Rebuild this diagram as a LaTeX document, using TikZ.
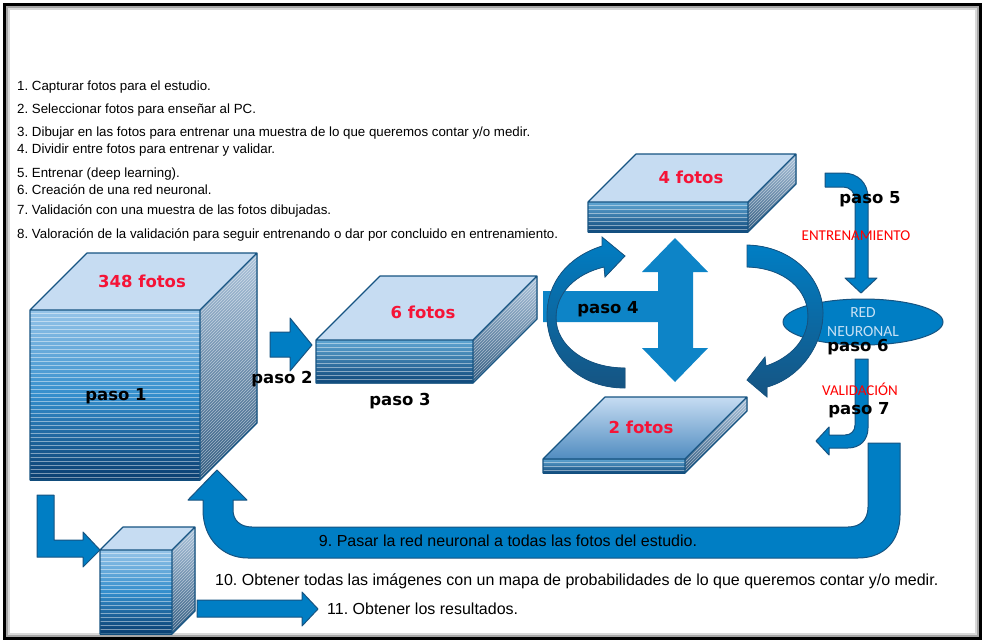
\documentclass[tikz,border=0pt]{standalone}
\usepackage{fontspec}
\setmainfont{Liberation Sans}
\newfontfamily\pasofont{DejaVu Sans}
\newfontfamily\calfont{Carlito}
\usetikzlibrary{positioning, calc, shapes.geometric}
\frenchspacing

\definecolor{azul}{RGB}{0,126,196}
\definecolor{azulosc}{RGB}{22,84,130}
\definecolor{celeste}{RGB}{198,220,242}
\definecolor{tapaosc}{RGB}{80,140,192}
\definecolor{rojo}{RGB}{245,20,55}
\definecolor{lucido}{RGB}{200,225,245}
\definecolor{frentecl}{RGB}{150,196,232}
\definecolor{frentemed}{RGB}{52,142,204}
\definecolor{frenteosc}{RGB}{10,62,112}
\definecolor{finacl}{RGB}{95,165,210}
\definecolor{finaosc}{RGB}{15,72,122}
\definecolor{lateralcl}{RGB}{165,190,215}
\definecolor{lateralosc}{RGB}{35,80,120}

% pila de fotos: [tapa] x y ancho alto fondo
\newcommand{\fotostack}[6][tapa]{%
  \begin{scope}[shift={(#2,#3)}]
    \fill[caraf] (0,0) rectangle (#4,#5);
    \begin{scope}
      \clip (0,0) rectangle (#4,#5);
      \foreach \k in {3,7,...,#5} \draw[raya] (0,\k) -- (#4,\k);
    \end{scope}
    \fill[caral] (#4,0) -- ++(#6,-#6) -- ++(0,#5) -- (#4,#5) -- cycle;
    \begin{scope}
      \clip (#4,0) -- ++(#6,-#6) -- ++(0,#5) -- (#4,#5) -- cycle;
      \foreach \k in {0,3,...,#5} \draw[raya] (#4,\k) -- ++(#6,-#6);
    \end{scope}
    \fill[#1] (0,0) -- (#6,-#6) -- ++(#4,0) -- (#4,0) -- cycle;
    \draw[borde] (0,#5) -- (0,0) -- (#6,-#6) -- ++(#4,0) -- ++(0,#5) -- (#4,#5) -- cycle
      (0,0) -- (#4,0) -- ++(#6,-#6) (#4,0) -- (#4,#5);
  \end{scope}}

\begin{document}
\begin{tikzpicture}[
  x=1pt, y=-1pt,
  flecha/.style={fill=azul,draw=azulosc,line width=1pt,line join=round},
  plana/.style={fill=azul!95!white},
  curva/.style={top color=azul,bottom color=azulosc,draw=azulosc,line width=.8pt},
  caraf/.style={top color=frentecl,bottom color=frenteosc,middle color=frentemed},
  fina/.style={caraf/.style={top color=finacl,bottom color=finaosc}},
  caral/.style={top color=lateralcl,bottom color=lateralosc},
  tapa/.style={fill=celeste},
  tapagrad/.style={top color=celeste,bottom color=tapaosc},
  raya/.style={white,opacity=.45,line width=.8pt},
  borde/.style={draw=azulosc,line width=1.2pt,line join=round},
  paso/.style={font=\pasofont\bfseries\fontsize{16.5}{18}\selectfont,text height=12pt,text depth=0pt,inner sep=0pt},
  fotos/.style={paso,text=rojo},
  lista/.style={font=\fontsize{13.3}{15}\selectfont,anchor=west,text height=9.5pt,text depth=0pt,inner sep=0pt},
  texto/.style={font=\fontsize{16}{18}\selectfont,text height=11.5pt,text depth=0pt,inner sep=0pt},
  rotulo/.style={font=\calfont\fontsize{15}{17}\selectfont,text=red,text height=9.7pt,text depth=0pt,inner sep=0pt},
  redneuronal/.style={ellipse,draw=azulosc,fill=azul,line width=1pt,minimum width=160pt,minimum height=46pt,
    inner sep=0pt,align=center,text=lucido,font=\calfont\fontsize{15.5}{19}\selectfont}
]
\fill[white] (0,0) rectangle (985,643);
\useasboundingbox (0,0) rectangle (985,643);

% ----- Marco ---------------------------------------------------------------
\draw[line width=3pt] (4.5,4.5) rectangle (980.5,638.5);
\draw[gray!70,line width=2pt] (7,7) rectangle (978,636);
\draw[gray!30,line width=1.5pt] (9,9) rectangle (976,634);

% ----- Lista de pasos ------------------------------------------------------
\node[lista] (l1) at (17,86)  {1. Capturar fotos para el estudio.};
\node[lista] (l2) at (17,109) {2. Seleccionar fotos para enseñar al PC.};
\node[lista] (l3) at (17,132) {3. Dibujar en las fotos para entrenar una muestra de lo que queremos contar y/o medir.};
\node[lista] (l4) at (17,149) {4. Dividir entre fotos para entrenar y validar.};
\node[lista] (l5) at (17,173) {5. Entrenar (deep learning).};
\node[lista] (l6) at (17,190) {6. Creación de una red neuronal.};
\node[lista] (l7) at (17,210) {7. Validación con una muestra de las fotos dibujadas.};
\node[lista] (l8) at (17,234) {8. Valoración de la validación para seguir entrenando o dar por concluido en entrenamiento.};

% ----- Pilas de fotos ------------------------------------------------------
\fotostack{30}{310}{170}{170}{57}
\begin{scope}[fina]
  \fotostack{316}{340}{157}{43}{64}
\end{scope}

% paso 2
\fill[flecha] (270,332) -- (290,332) -- (290,318) -- (312,345) -- (290,371) -- (290,357) -- (270,357) -- cycle;

% paso 4: barra y doble flecha
\fill[plana] (543,291) -- (658,291) -- (658,272) -- (642,272) -- (675,238) -- (708,272) -- (693,272)
  -- (693,348) -- (708,348) -- (675,382) -- (642,348) -- (658,348) -- (658,322) -- (543,322) -- cycle;
\filldraw[curva] (625,388) .. controls (575,388) and (547,352) .. (547,316)
  .. controls (547,282) and (568,257) .. (602,246) -- (602,237) -- (625,256) -- (605,277) -- (604,267)
  .. controls (575,274) and (556,293) .. (556,318) .. controls (556,345) and (585,368) .. (625,368) -- cycle;

\begin{scope}[fina]
  \fotostack{588}{202}{160}{30}{48}
  \fotostack[tapagrad]{543}{459}{142}{14}{62}
\end{scope}

% ----- Red neuronal --------------------------------------------------------
\node[redneuronal] (rn) at (863,322) {RED\\NEURONAL};
\filldraw[curva] (747,245) .. controls (792,246) and (823,278) .. (823,313)
  .. controls (823,345) and (800,378) .. (767,387) -- (767,397) -- (747,380) -- (765,357) -- (766,366)
  .. controls (790,358) and (808,340) .. (808,316) .. controls (808,290) and (785,268) .. (747,267) -- cycle;

% paso 5 y paso 7
\fill[flecha] (825,173) -- (843,173) .. controls (858,173) and (868,183) .. (868,198) -- (868,278)
  -- (877,278) -- (861,293) -- (845,278) -- (855,278) -- (855,200)
  .. controls (855,192) and (850,187) .. (843,187) -- (825,187) -- cycle;
\fill[flecha] (855,359) -- (868,359) -- (868,428) .. controls (868,440) and (860,448) .. (848,448)
  -- (829,448) -- (829,455) -- (816,441) -- (829,427) -- (829,435) -- (845,435)
  .. controls (851,435) and (855,431) .. (855,425) -- cycle;

% ----- Vuelta a todas las fotos -------------------------------------------
\fill[flecha] (868,443) -- (900,443) -- (900,515) .. controls (900,540) and (885,558) .. (858,558)
  -- (248,558) .. controls (222,558) and (203,538) .. (203,510) -- (203,500) -- (188,500) -- (217,470)
  -- (247,500) -- (233,500) -- (233,510) .. controls (233,520) and (240,527) .. (252,527)
  -- (848,527) .. controls (860,527) and (868,520) .. (868,507) -- cycle;
\fill[flecha] (37,495) -- (54,495) -- (54,540) -- (83,540) -- (83,532) -- (100,550) -- (83,567)
  -- (83,557) -- (37,557) -- cycle;
\fotostack{100}{550}{72}{84}{23}
\fill[flecha] (197,600) -- (302,600) -- (302,592) -- (318,609) -- (302,626) -- (302,617) -- (197,617) -- cycle;

% ----- Rótulos -------------------------------------------------------------
\node[fotos] (f348) at (142,281) {348 fotos};
\node[paso]  (p1) at (116,394) {paso 1};
\node[paso]  (p2) at (282,377) {paso 2};
\node[fotos] (f6) at (423,312) {6 fotos};
\node[paso]  (p3) at (400,399) {paso 3};
\node[fotos] (f4) at (691,177) {4 fotos};
\node[fotos] (f2) at (641,427) {2 fotos};
\node[paso]  (p4) at (608,307) {paso 4};
\node[paso]  (p5) at (870,197) {paso 5};
\node[rotulo] (ent) at (856,236) {ENTRENAMIENTO};
\node[paso]  (p6) at (858,345) {paso 6};
\node[rotulo] (val) at (860,391) {VALIDACIÓN};
\node[paso]  (p7) at (859,408) {paso 7};
\node[texto] (t9) at (508,541) {9. Pasar la red neuronal a todas las fotos del estudio.};
\node[texto,anchor=west] (t10) at (215,580) {10. Obtener todas las imágenes con un mapa de probabilidades de lo que queremos contar y/o medir.};
\node[texto,anchor=west] (t11) at (327,609) {11. Obtener los resultados.};

\end{tikzpicture}
\end{document}
